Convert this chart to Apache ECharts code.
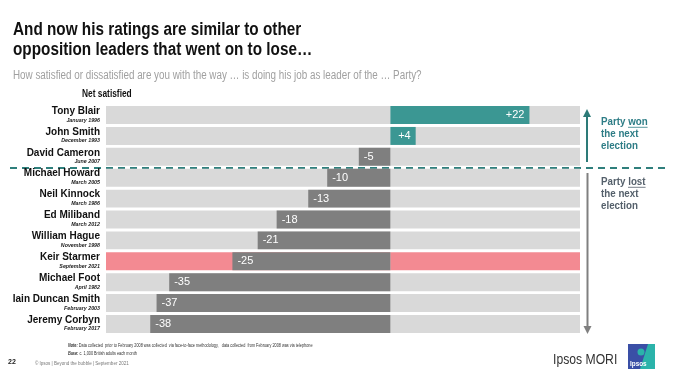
<!DOCTYPE html>
<html><head><meta charset="utf-8">
<script src="https://cdn.jsdelivr.net/npm/echarts@6/dist/echarts.min.js"></script>
<style>html,body{margin:0;padding:0;background:#fff}#c{width:680px;height:383px}</style>
</head><body><div id="c"></div>
<script>
const leaders = ['Tony Blair','John Smith','David Cameron','Michael Howard','Neil Kinnock','Ed Miliband','William Hague','Keir Starmer','Michael Foot','Iain Duncan Smith','Jeremy Corbyn'];
const dates = ['January 1996','December 1993','June 2007','March 2005','March 1986','March 2012','November 1998','September 2021','April 1982','February 2003','February 2017'];
const netSatisfied = [22,4,-5,-10,-13,-18,-21,-25,-35,-37,-38];
const highlightLeader = 'Keir Starmer';
const X_MIN = -45, X_MAX = 30;

const SANS = '"Liberation Sans",Arial,sans-serif';
const TEAL = '#3b9793', GREY = '#7f7f7f', BG = '#d9d9d9', PINK = '#f38a92';

const chart = echarts.init(document.getElementById('c'), null, {renderer:'canvas'});
const bgColor = leaders.map(n => n === highlightLeader ? PINK : BG);

const option = {
  animation:false,
  grid:{left:106, right:100, top:104.6, bottom:48.6, outerBoundsMode:'none', containLabel:false},
  xAxis:{type:'value', min:X_MIN, max:X_MAX, show:false},
  yAxis:{type:'category', inverse:true, data:leaders,
    axisLine:{show:false}, axisTick:{show:false}, splitLine:{show:false},
    axisLabel:{margin:6, align:'right',
      formatter:(v,i)=>'{n|'+v+'}\n{d|'+dates[i]+'}',
      rich:{
        n:{fontFamily:SANS, fontWeight:'bold', fontSize:10, color:'#111', lineHeight:10, align:'right'},
        d:{fontFamily:SANS, fontStyle:'italic', fontWeight:'bold', fontSize:5.3, color:'#222', lineHeight:8, align:'right'}
      }}
  },
  series:[
    {type:'bar', silent:true, barGap:'-100%', barCategoryGap:'14%',
      data:leaders.map((n,i)=>({value:X_MAX, itemStyle:{color:bgColor[i]}}))},
    {type:'bar', silent:true, barGap:'-100%', barCategoryGap:'14%',
      data:leaders.map((n,i)=>({value:X_MIN, itemStyle:{color:bgColor[i]}}))},
    {type:'bar', silent:true, barGap:'-100%', barCategoryGap:'14%',
      data:netSatisfied.map(v=>({value:v,
        itemStyle:{color: v>0?TEAL:GREY},
        label:{show:true, position: v>0?'insideRight':'insideLeft', distance:5,
          color:'#fff', fontFamily:SANS, fontSize:11,
          formatter:(p)=> (p.value>0?'+':'')+p.value}
      }))}
  ],
  graphic:[
    {type:'text', x:13, y:20, scaleX:0.85, style:{text:'And now his ratings are similar to other\nopposition leaders that went on to lose\u2026',
      fontFamily:SANS, fontWeight:'bold', fontSize:18, lineHeight:20, fill:'#111'}},
    {type:'text', x:13, y:70, scaleX:0.82, style:{text:'How satisfied or dissatisfied are you with the way \u2026 is doing his job as leader of the \u2026 Party?',
      fontFamily:SANS, fontSize:12, fill:'#a0a0a0'}},
    {type:'text', x:82, y:88, scaleX:0.76, style:{text:'Net satisfied', fontFamily:SANS, fontWeight:'bold', fontSize:11, fill:'#111'}},
    {type:'line', shape:{x1:10, y1:168, x2:666, y2:168}, style:{stroke:'#2f7f7c', lineWidth:2, lineDash:[7,5]}},
    // up arrow
    {type:'line', shape:{x1:587, y1:162, x2:587, y2:115}, style:{stroke:'#2d7b78', lineWidth:2}},
    {type:'polygon', shape:{points:[[583,117],[591,117],[587,109]]}, style:{fill:'#2d7b78'}},
    // down arrow
    {type:'line', shape:{x1:587.5, y1:173, x2:587.5, y2:328}, style:{stroke:'#808080', lineWidth:2}},
    {type:'polygon', shape:{points:[[583.5,326],[591.5,326],[587.5,334]]}, style:{fill:'#808080'}},
    {type:'text', x:601, y:115.7, scaleX:0.85, style:{text:'Party won\nthe next\nelection',
      fontFamily:SANS, fontWeight:'bold', fontSize:11.5, lineHeight:12, fill:'#2e7d86'}},
    {type:'line', shape:{x1:628, y1:127.3, x2:647.6, y2:127.3}, style:{stroke:'#2e7d86', lineWidth:0.8}},
    {type:'text', x:601, y:175.7, scaleX:0.85, style:{text:'Party lost\nthe next\nelection',
      fontFamily:SANS, fontWeight:'bold', fontSize:11.5, lineHeight:12, fill:'#55606b'}},
    {type:'line', shape:{x1:628, y1:187.3, x2:645.6, y2:187.3}, style:{stroke:'#55606b', lineWidth:0.8}},
    // footer
    {type:'text', x:68, y:343.5, scaleX:0.83, style:{text:'{b|Note:} Data collected  prior to February 2008 was collected  via face-to-face methodology,   data collected  from February 2008 was via telephone',
      fontFamily:SANS, fontSize:4.6, fill:'#333', rich:{b:{fontWeight:'bold', fontStyle:'italic', fontSize:4.6, fill:'#333'}}}},
    {type:'text', x:68, y:351.5, scaleX:0.83, style:{text:'{b|Base:} c. 1,000 British adults each month',
      fontFamily:SANS, fontSize:4.6, fill:'#333', rich:{b:{fontWeight:'bold', fontStyle:'italic', fontSize:4.6, fill:'#333'}}}},
    {type:'text', x:8, y:359, style:{text:'22', fontFamily:SANS, fontWeight:'bold', fontSize:7, fill:'#222'}},
    {type:'text', x:35, y:360, scaleX:0.82, style:{text:'\u00a9 Ipsos | Beyond the bubble | September 2021', fontFamily:SANS, fontSize:5.5, fill:'#777'}},
    {type:'text', x:553, y:352, scaleX:0.84, style:{text:'Ipsos MORI', fontFamily:SANS, fontSize:14.5, fill:'#333'}},
    {type:'rect', shape:{x:628, y:344, width:27, height:25}, style:{fill:'#2bb3aa'}},
    {type:'polygon', shape:{points:[[628,344],[648,344],[640,369],[628,369]]}, style:{fill:'#3a4fa6'}},
    {type:'circle', shape:{cx:641, cy:352, r:3.5}, style:{fill:'#2bb3aa'}},
    {type:'text', x:630, y:360, scaleX:0.85, style:{text:'Ipsos', fontFamily:SANS, fontWeight:'bold', fontSize:7.5, fill:'#fff'}}
  ]
};
chart.setOption(option);
</script></body></html>
